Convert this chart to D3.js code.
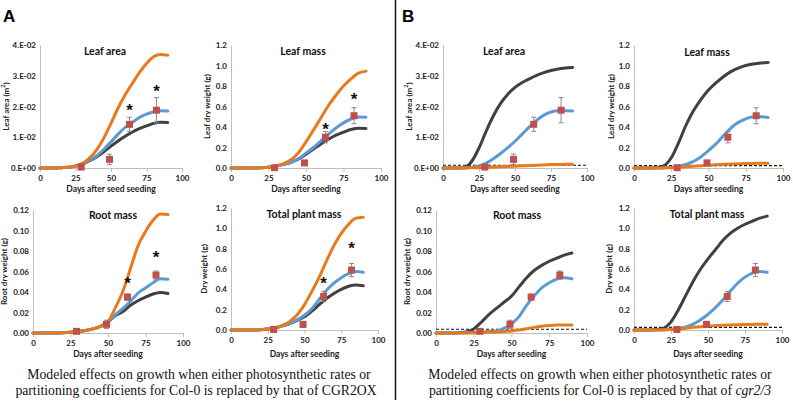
<!DOCTYPE html>
<html>
<head>
<meta charset="utf-8">
<script src="https://cdn.jsdelivr.net/npm/d3@7"></script>
<style>
  html, body { margin: 0; padding: 0; background: #fff; }
  svg { display: block; }
</style>
</head>
<body>
<svg id="chart" width="793" height="405"></svg>
<script>
// ---------------- DATA ----------------
const days = [0,5,10,15,20,25,30,35,40,45,50,55,60,65,70,75,80,85,90];
const xTicks = [0,25,50,75,100];
const obsDays = [29,49,63,82];
const starDays = [63,82];

// Leaf area (m2)
const leafAreaTicks = [0,0.01,0.02,0.03,0.04];
const leafAreaTickLabels = ["0.E+00","1.E-02","2.E-02","3.E-02","4.E-02"];
const obsLeafArea = [0.0003,0.0028,0.0142,0.0188];
const errLeafArea = [0.0002,0.0017,0.0023,0.0041];
const starLeafArea = [0.0195,0.0257];
const aLeafAreaOrange = [0,0,0,0.0001,0.0003,0.0007,0.0015,0.0033,0.006,0.0098,0.0145,0.0195,0.0238,0.0275,0.031,0.034,0.0362,0.0369,0.0367];
const aLeafAreaBlue   = [0,0,0,0.0001,0.0002,0.0006,0.0013,0.0025,0.004,0.0061,0.0085,0.011,0.0132,0.0148,0.0164,0.0175,0.0183,0.0186,0.0185];
const aLeafAreaDark   = [0,0,0,0.0001,0.0002,0.0006,0.0013,0.0024,0.0037,0.0053,0.0071,0.0088,0.0103,0.0117,0.0128,0.0137,0.0145,0.0149,0.0148];
const bLeafAreaDark   = [0,0,0,0.0002,0.0022,0.0065,0.012,0.017,0.021,0.024,0.0262,0.0278,0.029,0.0301,0.031,0.0317,0.0322,0.0325,0.0327];
const bLeafAreaBlue   = [0,0,0,0,0.0002,0.0007,0.0016,0.003,0.0047,0.0066,0.0087,0.011,0.0134,0.0155,0.0172,0.0182,0.0186,0.0186,0.0185];
const bLeafAreaOrange = [0,0,0,0,0.0001,0.0001,0.0002,0.0003,0.0004,0.0005,0.0006,0.0007,0.0008,0.0009,0.001,0.0011,0.0011,0.0012,0.0012];
const bLeafAreaDash = 0.0009;

// Leaf mass (g)
const massTicks = [0,0.2,0.4,0.6,0.8,1.0,1.2];
const massTickLabels = ["0.0","0.2","0.4","0.6","0.8","1.0","1.2"];
const obsLeafMass = [0.003,0.05,0.30,0.51];
const errLeafMass = [0.005,0.02,0.055,0.078];
const starLeafMass = [0.403,0.696];
const aLeafMassOrange = [0,0,0,0,0.002,0.008,0.02,0.042,0.08,0.15,0.255,0.37,0.49,0.61,0.71,0.8,0.87,0.925,0.945];
const aLeafMassBlue   = [0,0,0,0,0.002,0.007,0.018,0.035,0.056,0.09,0.145,0.2,0.265,0.33,0.39,0.44,0.478,0.497,0.495];
const aLeafMassDark   = [0,0,0,0,0.002,0.007,0.018,0.035,0.056,0.088,0.135,0.185,0.235,0.28,0.32,0.35,0.375,0.387,0.385];
const bLeafMassDark   = [0,0,0,0.004,0.022,0.1,0.25,0.42,0.56,0.67,0.76,0.83,0.89,0.94,0.975,1.0,1.015,1.025,1.03];
const bLeafMassBlue   = [0,0,0,0,0.002,0.008,0.018,0.035,0.065,0.11,0.17,0.235,0.315,0.39,0.445,0.48,0.5,0.5,0.492];
const bLeafMassOrange = [0,0,0,0,0.001,0.003,0.008,0.013,0.018,0.023,0.028,0.032,0.036,0.039,0.042,0.044,0.045,0.046,0.046];
const bLeafMassDash = 0.023;

// Root mass (g)
const rootTicks = [0,0.02,0.04,0.06,0.08,0.10,0.12];
const rootTickLabels = ["0.00","0.02","0.04","0.06","0.08","0.10","0.12"];
const obsRootMass = [0.0016,0.0085,0.035,0.0565];
const errRootMass = [0.0005,0.004,0.003,0.004];
const starRootMass = [0.0504,0.0764];
const aRootOrange = [0,0,0,0,0.0003,0.0008,0.0015,0.0025,0.004,0.0065,0.011,0.025,0.041,0.063,0.085,0.099,0.11,0.116,0.1155];
const aRootBlue   = [0,0,0,0,0.0003,0.0008,0.0015,0.0025,0.004,0.0065,0.011,0.018,0.024,0.031,0.039,0.044,0.049,0.053,0.0525];
const aRootDark   = [0,0,0,0,0.0003,0.0008,0.0015,0.0025,0.004,0.0065,0.011,0.017,0.021,0.027,0.0315,0.035,0.038,0.0395,0.0385];
const bRootDark   = [0,0,0,0.0003,0.001,0.004,0.0105,0.018,0.024,0.03,0.036,0.045,0.054,0.061,0.066,0.07,0.073,0.076,0.078];
const bRootBlue   = [0,0,0,0,0.0002,0.0005,0.001,0.0015,0.002,0.0045,0.009,0.016,0.027,0.036,0.044,0.049,0.0525,0.054,0.053];
const bRootOrange = [0,0,0,0,0.0001,0.0002,0.0004,0.0007,0.001,0.0015,0.002,0.003,0.0042,0.0055,0.0065,0.0072,0.0077,0.0078,0.0077];
const bRootDash = 0.0036;

// Total plant mass (g)
const obsTotal = [0.005,0.055,0.33,0.59];
const errTotal = [0.01,0.03,0.05,0.065];
const starTotal = [0.485,0.823];
const aTotalOrange = [0,0,0,0,0.003,0.01,0.022,0.045,0.085,0.15,0.25,0.38,0.52,0.68,0.83,0.95,1.04,1.1,1.11];
const aTotalBlue   = [0,0,0,0,0.003,0.009,0.02,0.04,0.065,0.1,0.145,0.21,0.3,0.39,0.46,0.515,0.555,0.575,0.568];
const aTotalDark   = [0,0,0,0,0.003,0.009,0.02,0.04,0.063,0.095,0.13,0.185,0.25,0.31,0.36,0.4,0.43,0.443,0.436];
const bTotalDark   = [0,0,0,0.004,0.018,0.08,0.2,0.34,0.48,0.6,0.7,0.79,0.88,0.95,1.0,1.04,1.07,1.1,1.12];
const bTotalBlue   = [0,0,0,0,0.002,0.007,0.015,0.03,0.058,0.1,0.155,0.22,0.295,0.38,0.46,0.52,0.56,0.575,0.568];
const bTotalOrange = [0,0,0,0,0.001,0.004,0.01,0.018,0.026,0.033,0.038,0.043,0.047,0.05,0.052,0.054,0.055,0.056,0.056];
const bTotalDash = 0.026;

// ---------------- STYLE / LAYOUT ----------------
const C = { orange: "#E87A1E", blue: "#5B9BD5", dark: "#404040", marker: "#C0504D", err: "#8a8a8a", axis: "#bfbfbf" };
const FONT = "Lato, 'Open Sans', 'Liberation Sans', sans-serif";

const panels = [
  { x0:40, x1:182, yT:45, yB:168, title:"Leaf area", tx:105, ty:52, ytitle:"Leaf area (m", sup:true, yOff:33,
    xtitle:"Days after seed seeding", xtY:190, max:0.04, ticks:leafAreaTicks, tl:leafAreaTickLabels,
    series:[aLeafAreaDark,aLeafAreaBlue,aLeafAreaOrange], obs:obsLeafArea, err:errLeafArea, stars:starLeafArea },
  { x0:231, x1:381, yT:45, yB:168, title:"Leaf mass", tx:303, ty:52, ytitle:"Leaf dry weight (g)", yOff:23,
    xtitle:"Days after seeding", xtY:190, max:1.2, ticks:massTicks, tl:massTickLabels,
    series:[aLeafMassDark,aLeafMassBlue,aLeafMassOrange], obs:obsLeafMass, err:errLeafMass, stars:starLeafMass },
  { x0:33, x1:183, yT:210, yB:333, title:"Root mass", tx:113, ty:216, ytitle:"Root dry weight (g)", yOff:28,
    xtitle:"Days after seeding", xtY:355, max:0.12, ticks:rootTicks, tl:rootTickLabels,
    series:[aRootDark,aRootBlue,aRootOrange], obs:obsRootMass, err:errRootMass, stars:starRootMass },
  { x0:231, x1:378, yT:208, yB:330, title:"Total plant mass", tx:304, ty:215, ytitle:"Dry weight (g)", yOff:26,
    xtitle:"Days after seeding", xtY:355, max:1.2, ticks:massTicks, tl:massTickLabels,
    series:[aTotalDark,aTotalBlue,aTotalOrange], obs:obsTotal, err:errTotal, stars:starTotal },
  { x0:443, x1:587, yT:45, yB:168, title:"Leaf area", tx:504, ty:52, ytitle:"Leaf area (m", sup:true, yOff:33,
    xtitle:"Days after seed seeding", xtY:190, max:0.04, ticks:leafAreaTicks, tl:leafAreaTickLabels,
    series:[bLeafAreaDark,bLeafAreaBlue,bLeafAreaOrange], obs:obsLeafArea, err:errLeafArea, dash:bLeafAreaDash },
  { x0:634, x1:783, yT:45, yB:168, title:"Leaf mass", tx:707, ty:53, ytitle:"Leaf dry weight (g)", yOff:22,
    xtitle:"Days after seeding", xtY:190, max:1.2, ticks:massTicks, tl:massTickLabels,
    series:[bLeafMassDark,bLeafMassBlue,bLeafMassOrange], obs:obsLeafMass, err:errLeafMass, dash:bLeafMassDash },
  { x0:436, x1:587, yT:210, yB:333, title:"Root mass", tx:517, ty:216, ytitle:"Root dry weight (g)", yOff:28,
    xtitle:"Days after seeding", xtY:355, max:0.12, ticks:rootTicks, tl:rootTickLabels,
    series:[bRootDark,bRootBlue,bRootOrange], obs:obsRootMass, err:errRootMass, dash:bRootDash },
  { x0:634, x1:782, yT:208, yB:330, title:"Total plant mass", tx:707, ty:215, ytitle:"Dry weight (g)", yOff:24,
    xtitle:"Days after seeding", xtY:355, max:1.2, ticks:massTicks, tl:massTickLabels,
    series:[bTotalDark,bTotalBlue,bTotalOrange], obs:obsTotal, err:errTotal, dash:bTotalDash }
];
const seriesColors = [C.dark, C.blue, C.orange];

// ---------------- DRAW ----------------
const svg = d3.select("#chart");

panels.forEach(p => {
  const x = d3.scaleLinear().domain([0,100]).range([p.x0, p.x1]);
  const y = d3.scaleLinear().domain([0,p.max]).range([p.yB, p.yT]);
  const g = svg.append("g");

  // y axis
  const ya = g.append("g").attr("transform", `translate(${p.x0},0)`)
    .call(d3.axisLeft(y).tickValues(p.ticks).tickFormat((d,i)=>p.tl[i]).tickSize(0).tickPadding(4));
  ya.select(".domain").attr("stroke", C.axis);
  ya.selectAll("text").attr("font-family", FONT).attr("font-weight", 700).attr("font-size", 8).attr("fill", "#222");

  // x axis
  const xa = g.append("g").attr("transform", `translate(0,${p.yB})`)
    .call(d3.axisBottom(x).tickValues(xTicks).tickSize(4).tickSizeOuter(0).tickPadding(3));
  xa.select(".domain").attr("stroke", C.axis);
  xa.selectAll("line").attr("stroke", C.axis);
  xa.selectAll("text").attr("font-family", FONT).attr("font-weight", 700).attr("font-size", 8).attr("fill", "#222");

  // titles
  g.append("text").attr("x", p.tx).attr("y", p.ty).attr("text-anchor","middle").attr("dominant-baseline","middle")
    .attr("font-family", FONT).attr("font-weight", 700).attr("font-size", 10.5).attr("fill","#111").text(p.title);
  g.append("text").attr("x", (p.x0+p.x1)/2).attr("y", p.xtY).attr("text-anchor","middle").attr("dominant-baseline","middle")
    .attr("font-family", FONT).attr("font-weight", 700).attr("font-size", 8.5).attr("fill","#222").text(p.xtitle);
  const yt = g.append("text")
    .attr("transform", `translate(${p.x0 - p.yOff},${(p.yT+p.yB)/2}) rotate(-90)`)
    .attr("text-anchor","middle").attr("dominant-baseline","middle")
    .attr("font-family", FONT).attr("font-weight", 700).attr("font-size", 8).attr("fill","#222");
  yt.append("tspan").text(p.ytitle);
  if (p.sup) {
    yt.append("tspan").attr("font-size", 5.5).attr("dy", -3).text("2");
    yt.append("tspan").attr("dy", 3).text(")");
  }

  // dashed reference line
  if (p.dash !== undefined) {
    g.append("line").attr("x1", x(0)).attr("x2", x(100)).attr("y1", y(p.dash)).attr("y2", y(p.dash))
      .attr("stroke", "#111").attr("stroke-width", 1.1).attr("stroke-dasharray", "3,2");
  }

  // model curves
  const line = d3.line().x((d,i)=>x(days[i])).y(d=>y(d)).curve(d3.curveMonotoneX);
  p.series.forEach((s,k) => {
    g.append("path").datum(s).attr("d", line).attr("fill","none")
      .attr("stroke", seriesColors[k]).attr("stroke-width", 3).attr("stroke-linejoin","round").attr("stroke-linecap","round");
  });

  // error bars
  p.obs.forEach((v,i) => {
    const cx = x(obsDays[i]);
    const e = p.err[i];
    g.append("line").attr("x1",cx).attr("x2",cx).attr("y1",y(v+e)).attr("y2",y(Math.max(0,v-e)))
      .attr("stroke", C.err).attr("stroke-width", 1);
    [v+e, Math.max(0,v-e)].forEach(t => {
      g.append("line").attr("x1",cx-2.5).attr("x2",cx+2.5).attr("y1",y(t)).attr("y2",y(t))
        .attr("stroke", C.err).attr("stroke-width", 1);
    });
  });
  // observed markers
  g.selectAll("rect.obs").data(p.obs).enter().append("rect")
    .attr("x",(d,i)=>x(obsDays[i])-3.5).attr("y",d=>y(d)-3.5).attr("width",7).attr("height",7)
    .attr("fill", C.marker);

  // significance stars
  if (p.stars) {
    p.stars.forEach((v,i) => {
      g.append("text").attr("x", x(starDays[i])).attr("y", y(v)+8).attr("text-anchor","middle")
        .attr("font-family","'Liberation Sans', Arial, sans-serif").attr("font-weight",700).attr("font-size",17)
        .attr("fill","#111").text("*");
    });
  }
});

// panel letters
svg.append("text").attr("x",3).attr("y",22).attr("font-family","'Liberation Sans', Arial, sans-serif")
  .attr("font-weight",700).attr("font-size",17).text("A");
svg.append("text").attr("x",402).attr("y",22).attr("font-family","'Liberation Sans', Arial, sans-serif")
  .attr("font-weight",700).attr("font-size",17).text("B");

// divider
svg.append("line").attr("x1",395.5).attr("x2",395.5).attr("y1",0).attr("y2",400).attr("stroke","#111").attr("stroke-width",1.5);

// captions
const SERIF = "'Liberation Serif', 'Times New Roman', serif";
const capA = svg.append("text").attr("font-family",SERIF).attr("font-size",13.7).attr("text-anchor","middle").attr("fill","#111");
capA.append("tspan").attr("x",199).attr("y",379).text("Modeled effects on growth when either photosynthetic rates or");
capA.append("tspan").attr("x",196).attr("y",395).text("partitioning coefficients for Col-0 is replaced by that of CGR2OX");
const capB = svg.append("text").attr("font-family",SERIF).attr("font-size",13.7).attr("text-anchor","middle").attr("fill","#111");
capB.append("tspan").attr("x",600).attr("y",379).text("Modeled effects on growth when either photosynthetic rates or");
const capB2 = capB.append("tspan").attr("x",600).attr("y",395);
capB2.append("tspan").text("partitioning coefficients for Col-0 is replaced by that of ");
capB.append("tspan").attr("font-style","italic").text("cgr2/3");
</script>
</body>
</html>
